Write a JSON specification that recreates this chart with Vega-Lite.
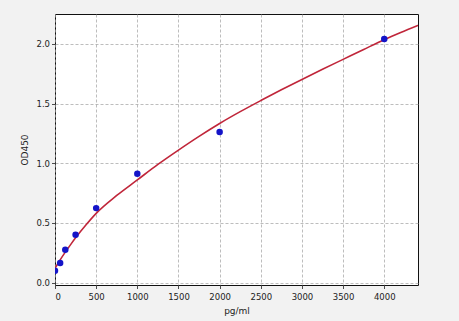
{
  "$schema": "https://vega.github.io/schema/vega-lite/v6.json",
  "width": 363,
  "height": 271,
  "autosize": {"type": "none"},
  "padding": {"left": 55, "top": 14, "right": 41, "bottom": 36},
  "background": "#f2f2f2",
  "view": {"fill": "white", "stroke": "#111111", "strokeWidth": 1},
  "config": {
    "font": "DejaVu Sans",
    "axis": {
      "labelFont": "DejaVu Sans",
      "titleFont": "DejaVu Sans",
      "labelFontSize": 8.5,
      "titleFontSize": 9,
      "titleFontWeight": "normal",
      "labelColor": "#222222",
      "titleColor": "#222222",
      "domain": false,
      "tickColor": "#222222",
      "tickSize": 3.5,
      "tickWidth": 0.8,
      "labelPadding": 2,
      "grid": true,
      "gridColor": "#a0a0a0",
      "gridDash": [3, 2],
      "gridWidth": 0.7
    }
  },
  "datasets": {
    "curve": [
      {"conc": 0, "od": 0.12},
      {"conc": 31.25, "od": 0.155},
      {"conc": 62.5, "od": 0.19},
      {"conc": 125, "od": 0.255},
      {"conc": 187.5, "od": 0.316},
      {"conc": 250, "od": 0.375},
      {"conc": 375, "od": 0.482},
      {"conc": 500, "od": 0.58},
      {"conc": 750, "od": 0.73},
      {"conc": 1000, "od": 0.86},
      {"conc": 1250, "od": 0.99},
      {"conc": 1500, "od": 1.11},
      {"conc": 1750, "od": 1.225},
      {"conc": 2000, "od": 1.333},
      {"conc": 2250, "od": 1.432},
      {"conc": 2500, "od": 1.525},
      {"conc": 2750, "od": 1.615},
      {"conc": 3000, "od": 1.702},
      {"conc": 3250, "od": 1.787},
      {"conc": 3500, "od": 1.87},
      {"conc": 3750, "od": 1.953},
      {"conc": 4000, "od": 2.035},
      {"conc": 4200, "od": 2.095},
      {"conc": 4410, "od": 2.155}
    ],
    "standards": [
      {"conc": 0, "od": 0.1},
      {"conc": 62.5, "od": 0.165},
      {"conc": 125, "od": 0.276},
      {"conc": 250, "od": 0.4},
      {"conc": 500, "od": 0.624},
      {"conc": 1000, "od": 0.911},
      {"conc": 2000, "od": 1.262},
      {"conc": 4000, "od": 2.04}
    ]
  },
  "layer": [
    {
      "data": {"name": "curve"},
      "mark": {"type": "line", "color": "#c0263a", "strokeWidth": 1.6, "clip": true, "interpolate": "monotone"},
      "encoding": {
        "x": {
          "field": "conc", "type": "quantitative",
          "scale": {"domain": [0, 4410], "nice": false, "zero": false},
          "axis": {"values": [0, 500, 1000, 1500, 2000, 2500, 3000, 3500, 4000], "format": "d", "title": "pg/ml", "labelPadding": 4, "titlePadding": 5}
        },
        "y": {
          "field": "od", "type": "quantitative",
          "scale": {"domain": [-0.02, 2.25], "nice": false, "zero": false},
          "axis": {"values": [0, 0.5, 1, 1.5, 2], "format": ".1f", "title": "OD450", "titlePadding": 6}
        }
      }
    },
    {
      "data": {"name": "standards"},
      "mark": {"type": "point", "filled": true, "color": "#1414c8", "opacity": 1, "size": 42, "clip": true},
      "encoding": {
        "x": {"field": "conc", "type": "quantitative"},
        "y": {"field": "od", "type": "quantitative"}
      }
    }
  ]
}
